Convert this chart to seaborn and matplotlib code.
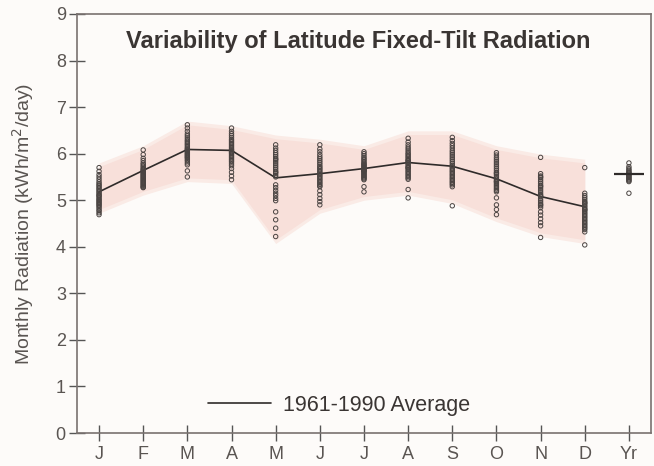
import matplotlib
matplotlib.use("Agg")
import matplotlib.pyplot as plt
import seaborn as sns
import pandas as pd

# ── Data ─────────────────────────────────────────────────────────────────────
months = ["J", "F", "M", "A", "M", "J", "J", "A", "S", "O", "N", "D", "Yr"]

yearly = {
    0: [5.70, 5.62, 5.55, 5.50, 5.45, 5.40, 5.36, 5.33, 5.30, 5.27, 5.24, 5.21, 5.18, 5.15, 5.12,
        5.10, 5.08, 5.05, 5.02, 5.00, 4.97, 4.95, 4.92, 4.90, 4.87, 4.84, 4.80, 4.77, 4.73, 4.69],
    1: [6.08, 5.98, 5.90, 5.85, 5.80, 5.77, 5.74, 5.71, 5.68, 5.66, 5.64, 5.62, 5.60, 5.58, 5.56,
        5.54, 5.52, 5.50, 5.48, 5.46, 5.44, 5.42, 5.40, 5.38, 5.36, 5.34, 5.32, 5.30, 5.28, 5.27],
    2: [6.62, 6.55, 6.48, 6.42, 6.38, 6.34, 6.30, 6.27, 6.24, 6.21, 6.18, 6.15, 6.12, 6.10, 6.08,
        6.06, 6.04, 6.02, 6.00, 5.98, 5.96, 5.94, 5.92, 5.90, 5.87, 5.84, 5.80, 5.76, 5.63, 5.50],
    3: [6.55, 6.48, 6.43, 6.39, 6.35, 6.31, 6.28, 6.25, 6.22, 6.19, 6.16, 6.13, 6.10, 6.08, 6.06,
        6.04, 6.02, 6.00, 5.97, 5.94, 5.91, 5.88, 5.85, 5.82, 5.78, 5.74, 5.68, 5.60, 5.52, 5.44],
    4: [6.19, 6.12, 6.07, 6.02, 5.98, 5.94, 5.90, 5.88, 5.86, 5.82, 5.78, 5.74, 5.70, 5.66, 5.62,
        5.60, 5.58, 5.54, 5.50, 5.33, 5.27, 5.21, 5.15, 5.10, 5.04, 4.99, 4.75, 4.58, 4.40, 4.22],
    5: [6.19, 6.10, 6.04, 5.98, 5.93, 5.89, 5.85, 5.81, 5.77, 5.73, 5.70, 5.67, 5.64, 5.61, 5.58,
        5.55, 5.52, 5.49, 5.46, 5.43, 5.40, 5.37, 5.34, 5.31, 5.29, 5.20, 5.12, 5.04, 4.97, 4.90],
    6: [6.04, 6.00, 5.96, 5.92, 5.89, 5.86, 5.83, 5.80, 5.78, 5.76, 5.74, 5.72, 5.70, 5.68, 5.66,
        5.65, 5.64, 5.63, 5.62, 5.60, 5.58, 5.56, 5.54, 5.52, 5.50, 5.48, 5.46, 5.44, 5.29, 5.18],
    7: [6.33, 6.25, 6.19, 6.14, 6.10, 6.06, 6.02, 5.99, 5.96, 5.93, 5.90, 5.87, 5.85, 5.84, 5.81,
        5.78, 5.75, 5.72, 5.70, 5.69, 5.66, 5.63, 5.60, 5.57, 5.54, 5.51, 5.48, 5.45, 5.23, 5.05],
    8: [6.35, 6.28, 6.22, 6.17, 6.12, 6.07, 6.03, 5.99, 5.95, 5.91, 5.87, 5.83, 5.79, 5.75, 5.72,
        5.69, 5.66, 5.63, 5.60, 5.57, 5.54, 5.51, 5.48, 5.45, 5.42, 5.39, 5.36, 5.33, 5.29, 4.88],
    9: [6.02, 5.97, 5.92, 5.88, 5.84, 5.80, 5.76, 5.72, 5.68, 5.64, 5.60, 5.58, 5.56, 5.52, 5.48,
        5.45, 5.42, 5.40, 5.39, 5.36, 5.33, 5.30, 5.27, 5.24, 5.21, 5.18, 5.05, 4.90, 4.80, 4.69],
    10: [5.92, 5.57, 5.52, 5.50, 5.48, 5.44, 5.40, 5.36, 5.32, 5.30, 5.28, 5.24, 5.20, 5.16, 5.12,
         5.10, 5.08, 5.04, 5.00, 4.96, 4.92, 4.90, 4.88, 4.84, 4.75, 4.68, 4.60, 4.52, 4.45, 4.20],
    11: [5.70, 5.15, 5.10, 5.06, 5.02, 4.98, 4.95, 4.94, 4.91, 4.88, 4.85, 4.82, 4.80, 4.79, 4.76,
         4.73, 4.70, 4.67, 4.64, 4.61, 4.58, 4.55, 4.52, 4.49, 4.46, 4.43, 4.40, 4.37, 4.32, 4.04],
    12: [5.80, 5.72, 5.68, 5.65, 5.62, 5.60, 5.58, 5.56, 5.54, 5.52, 5.50, 5.48, 5.46, 5.44, 5.42,
         5.40, 5.15],
}

avg_monthly = [5.18, 5.64, 6.09, 6.07, 5.48, 5.57, 5.68, 5.81, 5.73, 5.46, 5.08, 4.86]
avg_year = 5.57

band_upper = [5.72, 6.09, 6.62, 6.52, 6.32, 6.23, 6.09, 6.41, 6.41, 6.09, 5.91, 5.80]
band_lower = [4.80, 5.19, 5.48, 5.44, 4.15, 4.80, 5.08, 5.19, 5.01, 4.62, 4.30, 4.15]

# ── Styling ──────────────────────────────────────────────────────────────────
sns.set_theme(style="white")
plt.rcParams["font.family"] = ["Liberation Sans", "DejaVu Sans"]

GREY_TXT = "#5a5552"
SPINE = "#7a7270"

points = pd.DataFrame(
    [(m, v) for m, vals in yearly.items() for v in vals], columns=["month", "radiation"]
)
line_df = pd.DataFrame({"month": range(12), "radiation": avg_monthly})

fig = plt.figure(figsize=(6.54, 4.66), dpi=100, facecolor="#fdfbf9")
ax = fig.add_axes([0.1177, 0.0708, 0.8777, 0.8992])
ax.set_facecolor("#fdfbf9")

# variability band (soft edge: a wider, paler layer under the main one)
ax.fill_between(range(12), [v - 0.08 for v in band_lower], [v + 0.08 for v in band_upper],
                color="#faebe6", linewidth=0, zorder=1)
ax.fill_between(range(12), band_lower, band_upper, color="#f8e0da", linewidth=0, zorder=1)

sns.lineplot(data=line_df, x="month", y="radiation", color="#2f2b2a", linewidth=1.2,
             label="1961-1990 Average", ax=ax, zorder=3)
sns.scatterplot(data=points, x="month", y="radiation", marker="o", s=10,
                facecolors="none", edgecolor="#4a4442", linewidth=0.7, ax=ax, zorder=4,
                legend=False)
ax.plot([12], [avg_year], marker="_", markersize=22, markeredgewidth=1.6,
        color="#2f2b2a", zorder=5)

# axes
ax.set_xlim(-0.5, 12.5)
ax.set_ylim(0, 9)
ax.set_xticks(range(13))
ax.set_xticklabels(months)
ax.set_yticks(range(10))
ax.tick_params(axis="both", bottom=True, left=True, direction="inout", length=12, width=1.0,
               color="#555", labelsize=13, labelcolor=GREY_TXT)
ax.tick_params(axis="x", pad=3)
ax.tick_params(axis="y", pad=2)
for sp in ax.spines.values():
    sp.set_color(SPINE)
    sp.set_linewidth(1.2)
ax.set_xlabel("")
ax.set_ylabel("Monthly Radiation (kWh/m$^2$/day)", fontsize=14, color=GREY_TXT, labelpad=14)

ax.text(0.49, 0.935, "Variability of Latitude Fixed-Tilt Radiation", transform=ax.transAxes,
        ha="center", va="center", fontsize=17, fontweight="bold", color="#3a3533")

leg = ax.legend(loc="lower left", bbox_to_anchor=(0.195, -0.005), frameon=False, fontsize=15.5,
                handlelength=2.9, handletextpad=0.55)
for t in leg.get_texts():
    t.set_color("#3a3533")

fig.savefig("out.png", dpi=100, facecolor=fig.get_facecolor())
